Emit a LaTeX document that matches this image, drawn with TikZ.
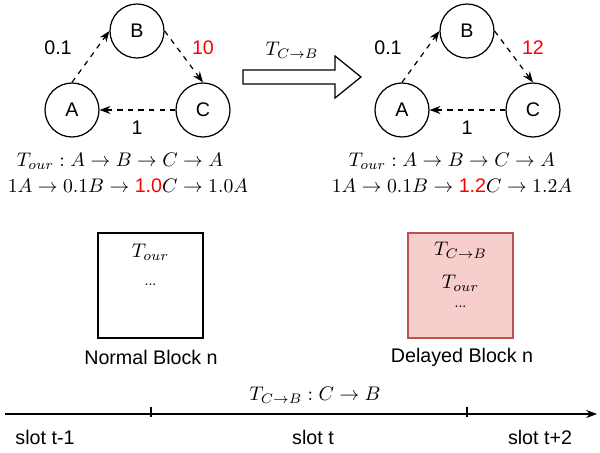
\RequirePackage{fix-cm}
\documentclass[tikz,border=0pt]{standalone}
\usepackage{fontspec}
\setmainfont{Liberation Sans}
\usetikzlibrary{arrows.meta}
\definecolor{delayfill}{RGB}{248,206,204}
\definecolor{delaydraw}{RGB}{184,84,80}

\begin{document}
\fontsize{11.2pt}{13.4pt}\selectfont
\begin{tikzpicture}[x=0.02cm, y=-0.02cm, >=Stealth,
  acct/.style={circle, draw, line width=0.7pt, minimum size=1.08cm, inner sep=0pt},
  hop/.style={->, dashed, line width=0.7pt},
  block/.style={draw, line width=0.7pt, minimum width=2.1cm, minimum height=2.1cm}]
\useasboundingbox (0,0) rectangle (600,453);
% the three-account cycle, before and after the delayed tx
\foreach \dx/\w/\g in {0/10/l, 330/12/r}{
  \node[acct] (B\g) at (137+\dx,31) {B};
  \node[acct] (A\g) at (72+\dx,110) {A};
  \node[acct] (C\g) at (203+\dx,110) {C};
  \draw[hop] (A\g.north) -- (B\g.west);
  \draw[hop] (B\g.east) -- (C\g.north);
  \draw[hop] (C\g.west) -- (A\g.east);
  \node (wab\g) at (58+\dx,48) {0.1};
  \node[red] (wbc\g) at (203+\dx,48) {\w};
  \node (wca\g) at (137+\dx,128) {1};
}
\node (tourl) at (120,161) {$T_{our}: A \to B \to C \to A$};
\node (ratel) at (128,186) {$1A \to 0.1B \to \mbox{\color{red}1.0}C \to 1.0A$};
\node (tourr) at (452,161) {$T_{our}: A \to B \to C \to A$};
\node (rater) at (452,186) {$1A \to 0.1B \to \mbox{\color{red}1.2}C \to 1.2A$};
% big hollow arrow between the two states
\draw[line width=0.7pt] (243,70) -- (335,70) -- (335,56) -- (361,77)
  -- (335,98) -- (335,84) -- (243,84) -- cycle;
\node (tcb) at (292,50) {$T_{C\to B}$};
% blocks
\node[block] (normal) at (150.5,285.5) {};
\node (ntour) at (150.5,252) {$T_{our}$};
\node[font=\footnotesize] (ndots) at (150.5,285) {...};
\node (nlab) at (151,357) {Normal Block n};
\node[block, fill=delayfill, draw=delaydraw] (delayed) at (460.5,285.5) {};
\node (dtcb) at (460.5,250) {$T_{C\to B}$};
\node (dtour) at (460.5,283) {$T_{our}$};
\node[font=\footnotesize] (ddots) at (460.5,307) {...};
\node (dlab) at (462,357) {Delayed Block n};
% time line
\coordinate (tstart) at (5,414);
\coordinate (tend) at (597,414);
\draw[->, line width=0.7pt] (tstart) -- (tend);
\foreach \x in {151,467}
  \draw[line width=0.7pt] (\x,407) -- (\x,417);
\node (tx) at (315,395) {$T_{C\to B}: C \to B$};
\node (s1) at (45,437) {slot t-1};
\node (s2) at (313,437) {slot t};
\node (s3) at (540,437) {slot t+2};
\end{tikzpicture}
\end{document}
